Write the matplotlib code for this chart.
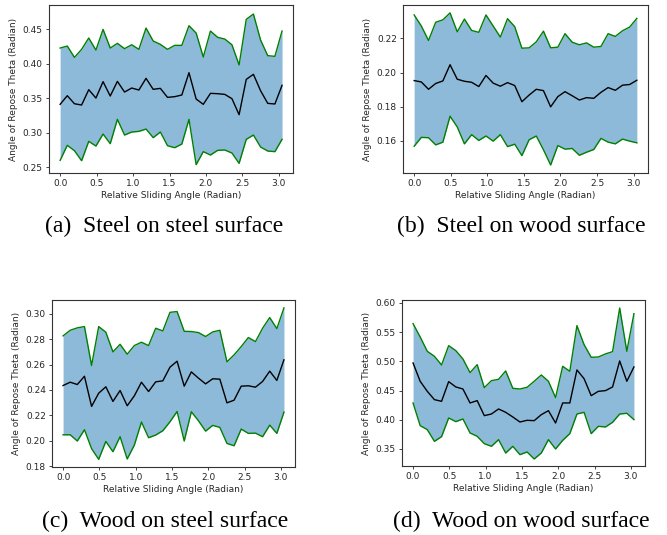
import numpy as np
import matplotlib
matplotlib.use("Agg")
import matplotlib.pyplot as plt

n_points = 32
angles = np.arange(n_points) * np.pi / 32

# (a) Steel on steel surface
a_upper = [0.4225, 0.4254, 0.409, 0.4206, 0.437, 0.4196, 0.4495, 0.4225, 0.4293, 0.4216,
           0.4273, 0.4206, 0.4514, 0.4327, 0.4278, 0.4206, 0.4264, 0.4264, 0.4548, 0.4442,
           0.4095, 0.4471, 0.438, 0.4355, 0.4273, 0.398, 0.464, 0.4717, 0.4341, 0.4115,
           0.4105, 0.4471]
a_mean = [0.3411, 0.3536, 0.342, 0.3401, 0.3623, 0.3502, 0.3739, 0.3531, 0.3743, 0.3589,
          0.3647, 0.3618, 0.3787, 0.3628, 0.3642, 0.3512, 0.3522, 0.3546, 0.3869, 0.3488,
          0.3411, 0.357, 0.3565, 0.3555, 0.3493, 0.3261, 0.3772, 0.3845, 0.3608, 0.3425,
          0.3416, 0.3686]
a_lower = [0.2601, 0.2818, 0.2741, 0.2596, 0.2876, 0.2808, 0.2982, 0.2842, 0.3194, 0.2967,
           0.3011, 0.302, 0.3054, 0.2929, 0.3011, 0.2813, 0.2784, 0.2837, 0.3194, 0.2539,
           0.2727, 0.2678, 0.2746, 0.2751, 0.2707, 0.2558, 0.2905, 0.2967, 0.2794, 0.2736,
           0.2727, 0.2905]

# (b) Steel on wood surface
b_upper = [0.2338, 0.2273, 0.2188, 0.2295, 0.2309, 0.235, 0.2239, 0.2314, 0.2247, 0.2236,
           0.2338, 0.2273, 0.2208, 0.2316, 0.2269, 0.2143, 0.2145, 0.218, 0.2243, 0.2145,
           0.2149, 0.2228, 0.2178, 0.2163, 0.2174, 0.2149, 0.2153, 0.2228, 0.2212, 0.2245,
           0.2267, 0.2318]
b_mean = [0.1953, 0.1945, 0.1902, 0.1936, 0.1951, 0.2046, 0.1961, 0.1949, 0.1943, 0.1918,
          0.1983, 0.1938, 0.192, 0.1941, 0.1924, 0.1829, 0.1868, 0.1902, 0.1894, 0.1799,
          0.1859, 0.1888, 0.1864, 0.1839, 0.1853, 0.1849, 0.1884, 0.1912, 0.1896, 0.1926,
          0.193, 0.1955]
b_lower = [0.1568, 0.162, 0.1618, 0.1576, 0.1592, 0.1744, 0.1681, 0.1582, 0.1636, 0.1602,
           0.1628, 0.1598, 0.1636, 0.1566, 0.158, 0.1513, 0.1606, 0.1628, 0.1547, 0.1458,
           0.1572, 0.1551, 0.1555, 0.1515, 0.1533, 0.1549, 0.1614, 0.1592, 0.1582, 0.161,
           0.1598, 0.1588]

# (c) Wood on steel surface
c_upper = [0.2825, 0.2869, 0.2888, 0.2898, 0.2592, 0.2898, 0.2854, 0.2699, 0.2759, 0.2681,
           0.2749, 0.2775, 0.2749, 0.2885, 0.2864, 0.301, 0.3016, 0.2861, 0.2859, 0.2851,
           0.282, 0.2856, 0.2869, 0.2621, 0.2676, 0.2741, 0.2812, 0.278, 0.2885, 0.2969,
           0.2882, 0.3045]
c_mean = [0.2435, 0.2461, 0.2443, 0.2508, 0.2271, 0.2375, 0.2425, 0.231, 0.2396, 0.2276,
          0.2354, 0.2461, 0.2388, 0.2464, 0.2472, 0.2579, 0.2626, 0.243, 0.2542, 0.2493,
          0.2448, 0.2488, 0.2485, 0.2299, 0.232, 0.243, 0.2433, 0.2422, 0.2467, 0.2548,
          0.2475, 0.2637]
c_lower = [0.2048, 0.2048, 0.1999, 0.2088, 0.1939, 0.1855, 0.1996, 0.1915, 0.2033, 0.1858,
           0.1967, 0.2148, 0.2025, 0.2046, 0.208, 0.215, 0.2231, 0.1999, 0.2229, 0.2158,
           0.2077, 0.2122, 0.2106, 0.198, 0.1962, 0.2093, 0.2059, 0.2061, 0.2033, 0.2124,
           0.2059, 0.2226]

# (d) Wood on wood surface
d_upper = [0.5646, 0.5418, 0.5172, 0.5087, 0.4938, 0.5269, 0.5184, 0.5041, 0.4807, 0.4944,
           0.455, 0.467, 0.4693, 0.4836, 0.4539, 0.4527, 0.4556, 0.4659, 0.4767, 0.4659,
           0.4379, 0.4916, 0.483, 0.5612, 0.5287, 0.507, 0.5075, 0.5127, 0.5167, 0.5914,
           0.5172, 0.5817]
d_mean = [0.4973, 0.4659, 0.4487, 0.4345, 0.4316, 0.4653, 0.4562, 0.4527, 0.4288, 0.4328,
          0.4071, 0.4099, 0.4185, 0.4128, 0.4048, 0.3962, 0.3991, 0.3985, 0.4088, 0.4156,
          0.3945, 0.4288, 0.4288, 0.4853, 0.4704, 0.4413, 0.4487, 0.4499, 0.4562, 0.5007,
          0.4659, 0.4904]
d_lower = [0.4288, 0.39, 0.3831, 0.3631, 0.3711, 0.4031, 0.3968, 0.4014, 0.3774, 0.3717,
           0.3591, 0.3546, 0.366, 0.3431, 0.3546, 0.3403, 0.3449, 0.3329, 0.3431, 0.366,
           0.35, 0.3648, 0.3763, 0.4099, 0.4128, 0.3763, 0.3888, 0.3877, 0.3957, 0.4099,
           0.4111, 0.4002]

captions = ["(a)  Steel on steel surface", "(b)  Steel on wood surface",
            "(c)  Wood on steel surface", "(d)  Wood on wood surface"]
x_label = "Relative Sliding Angle (Radian)"
y_label = "Angle of Repose Theta (Radian)"

panels = [(a_upper, a_mean, a_lower), (b_upper, b_mean, b_lower),
          (c_upper, c_mean, c_lower), (d_upper, d_mean, d_lower)]
y_limits = [(0.2418, 0.4847), (0.1411, 0.2396), (0.1795, 0.3107), (0.3209, 0.6051)]

# axes rectangles (fig fraction)
rects = [[0.0735, 0.6766, 0.366, 0.314],
         [0.6042, 0.6766, 0.3673, 0.314],
         [0.078, 0.1271, 0.3643, 0.3122],
         [0.6027, 0.129, 0.3643, 0.3103]]
cap_pos = [(0.246, 0.577), (0.781, 0.577), (0.248, 0.026), (0.781, 0.026)]

fig = plt.figure(figsize=(6.67, 5.35), dpi=100)
tick_col = "#262626"
for (up, mu, lo), rect, yl in zip(panels, rects, y_limits):
    ax = fig.add_axes(rect)
    ax.fill_between(angles, lo, up, color="#1f77b4", alpha=0.5, linewidth=0)
    ax.plot(angles, up, color="green", lw=1.0)
    ax.plot(angles, lo, color="green", lw=1.0)
    ax.plot(angles, mu, color="black", lw=1.0)
    ax.set_xticks([0.0, 0.5, 1.0, 1.5, 2.0, 2.5, 3.0])
    ax.set_ylim(*yl)
    ax.tick_params(labelsize=6.5, colors=tick_col, length=2.5, width=0.6, pad=2)
    ax.set_xlabel(x_label, fontsize=6.5, color=tick_col, labelpad=2)
    ax.set_ylabel(y_label, fontsize=6.5, color=tick_col, labelpad=3)
    for s in ax.spines.values():
        s.set_linewidth(0.8)
        s.set_color("#333333")

for (cx, cy), cap in zip(cap_pos, captions):
    fig.text(cx, cy, cap, ha="center", va="center", fontsize=17,
             family="Liberation Serif", color="black")

fig.savefig("out.png", dpi=100)
